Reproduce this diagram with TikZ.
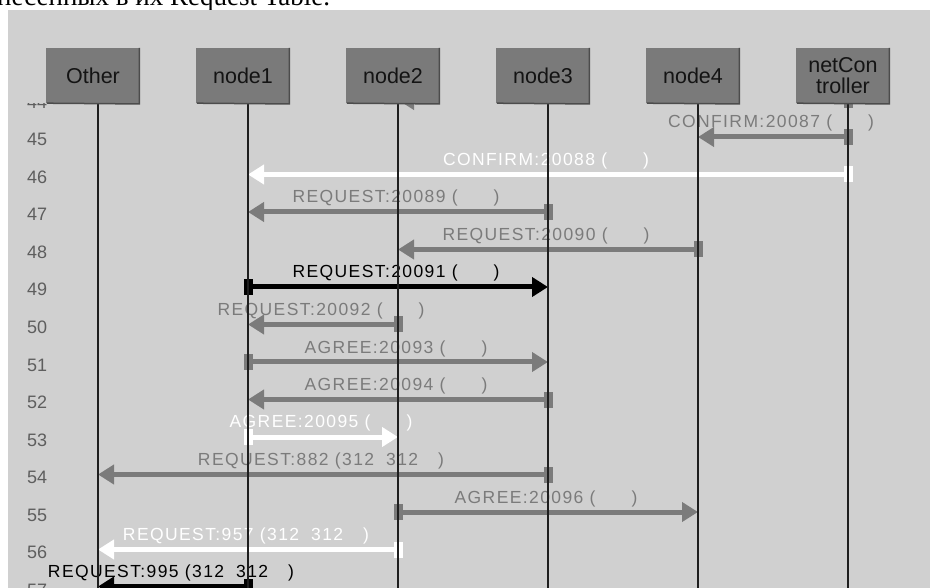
\documentclass[tikz,border=0pt]{standalone}
\usepackage{fontspec}
\setmainfont{Liberation Sans}
\newfontfamily\msgfont[LetterSpace=8.0]{Liberation Sans}
\newfontfamily\topfont{Liberation Serif}
\usetikzlibrary{arrows.meta}
\definecolor{bg}{HTML}{D0D0D0}
\definecolor{gmsg}{HTML}{7B7B7B}
\definecolor{boxfill}{HTML}{7A7A7A}
\definecolor{boxdark}{HTML}{4C4C4C}
\definecolor{rownum}{HTML}{5E5E5E}
\definecolor{lifec}{HTML}{1E1E1E}
\tikzset{
  msgline/.style={line width=5pt, -{Triangle[length=16pt,width=19pt]}},
  startmark/.style={rectangle, inner sep=0pt, minimum width=9pt, minimum height=16pt},
  msglabel/.style={font=\msgfont\fontsize{17.5}{20}\selectfont, anchor=base, inner sep=0pt},
  rowlabel/.style={font=\fontsize{18}{20}\selectfont, text=rownum, anchor=base west, inner sep=0pt},
  headbox/.style={rectangle, fill=boxfill, minimum width=94pt, minimum height=55pt, inner sep=0pt,
    font=\fontsize{21.5}{21.5}\selectfont, text=black!92, align=center},
  lifeline/.style={line width=1.5pt, draw=lifec},
}
% id, y, from x, to x, colour, label
\newcommand\msgarrow[6]{%
  \coordinate (#1s) at (#3,#2);
  \coordinate (#1e) at (#4,#2);
  \draw[msgline, color=#5] (#1s) -- (#1e);
  \node[startmark, fill=#5] (#1m) at (#1s) {};
  \node[msglabel, text=#5] (#1l) at ({(#3+#4)/2-2},{#2-9}) {#6};
}
\newcommand\emptyarg{\hspace{36pt})}
\newcommand\tparg{(312\hspace{12pt}312\hspace{20pt})}
\def\xA{98}\def\xB{248}\def\xC{398}\def\xD{548}\def\xE{698}\def\xF{848}
\begin{document}
\begin{tikzpicture}[x=1pt,y=-1pt]
\useasboundingbox (0,0) rectangle (930,588);
\clip (0,0) rectangle (930,588);
\fill[white] (0,0) rectangle (930,588);
\fill[bg] (8,10) rectangle (930,588);
% top text (cut off)
\node[anchor=base west, inner sep=0pt, font=\topfont\fontsize{27}{28}\selectfont] (toptext) at (-3,6) {несенных в их Request Table.};
% row numbers
\foreach \n [count=\i from 0] in {44,...,57}
  \node[rowlabel] (row\n) at (27,{99.5+37.5*\i+9}) {\n};
% messages
\msgarrow{m44}{100}{\xF}{\xC}{gmsg}{}
\msgarrow{m45}{137}{\xF}{\xE}{gmsg}{CONFIRM:20087 (\emptyarg}
\msgarrow{m46}{174.5}{\xF}{\xB}{white}{CONFIRM:20088 (\emptyarg}
\msgarrow{m47}{212}{\xD}{\xB}{gmsg}{REQUEST:20089 (\emptyarg}
\msgarrow{m48}{249.5}{\xE}{\xC}{gmsg}{REQUEST:20090 (\emptyarg}
\msgarrow{m49}{287}{\xB}{\xD}{black}{REQUEST:20091 (\emptyarg}
\msgarrow{m50}{324.5}{\xC}{\xB}{gmsg}{REQUEST:20092 (\emptyarg}
\msgarrow{m51}{362}{\xB}{\xD}{gmsg}{AGREE:20093 (\emptyarg}
\msgarrow{m52}{399.5}{\xD}{\xB}{gmsg}{AGREE:20094 (\emptyarg}
\msgarrow{m53}{437}{\xB}{\xC}{white}{AGREE:20095 (\emptyarg}
\msgarrow{m54}{474.5}{\xD}{\xA}{gmsg}{REQUEST:882 \tparg}
\msgarrow{m55}{512}{\xC}{\xE}{gmsg}{AGREE:20096 (\emptyarg}
\msgarrow{m56}{549.5}{\xC}{\xA}{white}{REQUEST:957 \tparg}
\msgarrow{m57}{586.5}{\xB}{\xA}{black}{REQUEST:995 \tparg}
% lifelines
\foreach \x/\nm in {\xA/O,\xB/a,\xC/b,\xD/c,\xE/d,\xF/e}{
  \coordinate (top\nm) at (\x,103);
  \coordinate (bot\nm) at (\x,595);
  \draw[lifeline] (top\nm) -- (bot\nm);
}
% header (covers scrolled rows)
\fill[bg] (8,10) rectangle (930,103);
\foreach \x/\nm/\lab in {\xA/hO/Other,\xB/ha/node1,\xC/hb/node2,\xD/hc/node3,\xE/hd/node4,\xF/he/{netCon\\troller}}{
  \node[headbox] (\nm) at (\x-5,75.5) {\lab};
  \draw[boxdark, line width=1.5pt] ([xshift=1pt]\nm.south west) -- ([xshift=-0.75pt,yshift=-0.75pt]\nm.south east) -- ([xshift=-0.75pt]\nm.north east);
}
\end{tikzpicture}
\end{document}
